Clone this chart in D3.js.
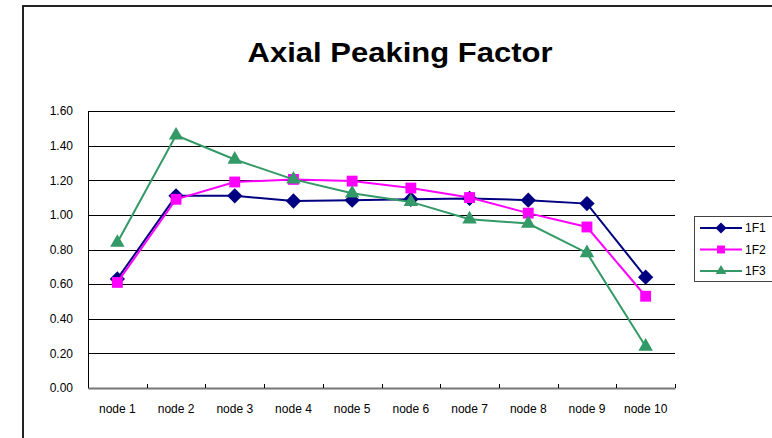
<!DOCTYPE html>
<html>
<head>
<meta charset="utf-8">
<script src="https://cdn.jsdelivr.net/npm/d3@7"></script>
<style>
  body { margin: 0; background: #fff; }
  svg { display: block; }
  text { font-family: "Liberation Sans", Arial, sans-serif; }
</style>
</head>
<body>
<svg id="chart"></svg>
<script>
// Data
const nodes = ["node 1", "node 2", "node 3", "node 4", "node 5", "node 6", "node 7", "node 8", "node 9", "node 10"];
const f1 = [0.63, 1.11, 1.11, 1.08, 1.085, 1.09, 1.095, 1.085, 1.065, 0.64];
const f2 = [0.61, 1.09, 1.19, 1.205, 1.195, 1.155, 1.10, 1.01, 0.93, 0.53];
const f3 = [0.84, 1.46, 1.32, 1.205, 1.125, 1.075, 0.975, 0.95, 0.78, 0.24];
const seriesNames = ["1F1", "1F2", "1F3"];
const yTicks = [0, 0.2, 0.4, 0.6, 0.8, 1.0, 1.2, 1.4, 1.6];

const series = [
  { name: seriesNames[0], values: f1, color: "#000080", shape: d3.symbolDiamond2 },
  { name: seriesNames[1], values: f2, color: "#ff00ff", shape: d3.symbolSquare2 },
  { name: seriesNames[2], values: f3, color: "#339966", shape: d3.symbolTriangle2 }
];

// Dimensions
const Width = 772;
const Height = 438;
const plot = { left: 88, right: 675, top: 111, bottom: 388 };

const svg = d3.select("#chart")
  .attr("width", Width)
  .attr("height", Height);

// Outer frame
svg.append("path")
  .attr("d", `M23,${Height} V6 H${Width}`)
  .attr("fill", "none")
  .attr("stroke", "#222")
  .attr("stroke-width", 2);

// Title
svg.append("text")
  .attr("x", 400)
  .attr("y", 62)
  .attr("text-anchor", "middle")
  .attr("font-size", 28)
  .attr("font-weight", "bold")
  .attr("textLength", 305)
  .attr("lengthAdjust", "spacingAndGlyphs")
  .text("Axial Peaking Factor");

// Scales
const xScale = d3.scaleBand()
  .domain(nodes)
  .range([plot.left, plot.right]);

const yScale = d3.scaleLinear()
  .domain([0, 1.6])
  .range([plot.bottom, plot.top]);

// Gridlines
svg.append("g")
  .selectAll("line")
  .data(yTicks.slice(1))
  .enter()
  .append("line")
  .attr("x1", plot.left)
  .attr("x2", plot.right)
  .attr("y1", d => Math.round(yScale(d)) + 0.5)
  .attr("y2", d => Math.round(yScale(d)) + 0.5)
  .attr("stroke", "#000")
  .attr("stroke-width", 1);

// Y axis
const yAxis = svg.append("g")
  .attr("transform", `translate(${plot.left},0)`)
  .call(d3.axisLeft(yScale).tickValues(yTicks).tickFormat(d3.format(".2f")).tickSize(0).tickPadding(15));
yAxis.select(".domain").attr("stroke", "#000");
yAxis.selectAll("text").attr("font-size", 12).attr("fill", "#000");

// X axis
const xAxis = svg.append("g")
  .attr("transform", `translate(0,${plot.bottom})`)
  .call(d3.axisBottom(xScale).tickSize(0).tickPadding(16));
xAxis.select(".domain").attr("stroke", "#777").attr("stroke-width", 2);
xAxis.selectAll("text").attr("font-size", 12).attr("fill", "#000");

// Category boundary ticks
svg.append("g")
  .selectAll("line")
  .data(nodes.slice(1).concat(["end"]))
  .enter()
  .append("line")
  .attr("x1", (d, i) => Math.round(plot.left + xScale.step() * (i + 1)) + 0.5)
  .attr("x2", (d, i) => Math.round(plot.left + xScale.step() * (i + 1)) + 0.5)
  .attr("y1", plot.bottom - 4)
  .attr("y2", plot.bottom)
  .attr("stroke", "#000");

// Lines
const line = d3.line()
  .x((d, i) => xScale(nodes[i]) + xScale.bandwidth() / 2)
  .y(d => yScale(d));

const groups = svg.selectAll(".series")
  .data(series)
  .enter()
  .append("g")
  .attr("class", "series");

groups.append("path")
  .attr("d", d => line(d.values))
  .attr("fill", "none")
  .attr("stroke", d => d.color)
  .attr("stroke-width", 2);

groups.each(function(s) {
  d3.select(this).selectAll("path.mark")
    .data(s.values)
    .enter()
    .append("path")
    .attr("class", "mark")
    .attr("transform", (d, i) => `translate(${xScale(nodes[i]) + xScale.bandwidth() / 2},${yScale(d)})`)
    .attr("d", d3.symbol().type(s.shape).size(s.name === "1F3" ? 150 : 150))
    .attr("fill", s.color);
});

// Legend
const legend = svg.append("g").attr("transform", "translate(694,216)");
legend.append("rect")
  .attr("x", 0.5)
  .attr("y", 0.5)
  .attr("width", 90)
  .attr("height", 65)
  .attr("fill", "#fff")
  .attr("stroke", "#444");

const items = legend.selectAll(".item")
  .data(series)
  .enter()
  .append("g")
  .attr("transform", (d, i) => `translate(0,${12 + i * 21.5})`);

items.append("line")
  .attr("x1", 6)
  .attr("x2", 48)
  .attr("stroke", d => d.color)
  .attr("stroke-width", 2);

items.append("path")
  .attr("transform", "translate(27,0)")
  .attr("d", d => d3.symbol().type(d.shape).size(80)())
  .attr("fill", d => d.color);

items.append("text")
  .attr("x", 51)
  .attr("dy", "0.35em")
  .attr("font-size", 12)
  .text(d => d.name);
</script>
</body>
</html>
